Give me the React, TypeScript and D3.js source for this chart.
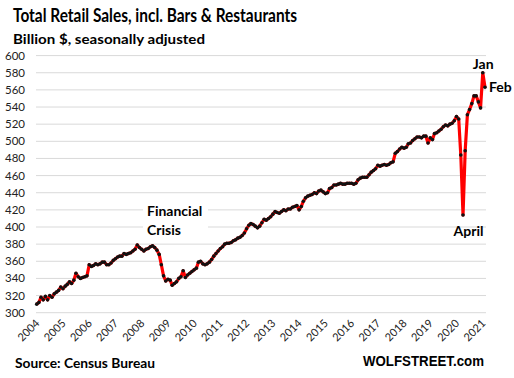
import React, { useEffect, useRef } from "react";
import * as d3 from "d3";

// Monthly total retail sales (billion $, SA), Jan of each year onward
const sales2004 = [310, 312, 318, 315, 319, 315, 320, 318, 322, 324, 326, 330];
const sales2005 = [328, 331, 333, 336, 334, 338, 346, 342, 340, 341, 342, 343];
const sales2006 = [356, 354, 355, 357, 356, 357, 359, 359, 356, 356, 358, 361];
const sales2007 = [363, 365, 366, 366, 369, 368, 369, 370, 372, 374, 379, 376];
const sales2008 = [374, 372, 374, 375, 377, 378, 376, 373, 368, 356, 343, 337];
const sales2009 = [339, 338, 332, 334, 336, 340, 342, 349, 341, 344, 346, 348];
const sales2010 = [350, 352, 359, 360, 357, 356, 357, 359, 362, 366, 369, 372];
const sales2011 = [375, 377, 380, 381, 381, 382, 384, 385, 387, 388, 390, 393];
const sales2012 = [398, 402, 404, 403, 401, 399, 401, 405, 409, 408, 410, 412];
const sales2013 = [415, 418, 417, 416, 418, 420, 419, 421, 421, 423, 424, 425];
const sales2014 = [420, 424, 430, 434, 436, 437, 438, 440, 439, 442, 443, 441];
const sales2015 = [439, 440, 445, 446, 449, 449, 450, 451, 450, 450, 451, 451];
const sales2016 = [451, 450, 451, 455, 457, 458, 458, 458, 461, 464, 466, 468];
const sales2017 = [472, 471, 472, 473, 472, 473, 475, 476, 486, 488, 491, 493];
const sales2018 = [492, 493, 497, 498, 501, 503, 505, 505, 504, 506, 506, 498];
const sales2019 = [504, 502, 509, 510, 512, 514, 517, 519, 518, 520, 521, 524];
const sales2020 = [529, 526, 484, 414, 489, 531, 537, 544, 553, 553, 546, 539];
const sales2021 = [580, 563];

const yearLabels = ["2004", "2005", "2006", "2007", "2008", "2009", "2010", "2011", "2012", "2013", "2014", "2015", "2016", "2017", "2018", "2019", "2020", "2021"];
const yTicks = [300, 320, 340, 360, 380, 400, 420, 440, 460, 480, 500, 520, 540, 560, 580, 600];

const allYears = [sales2004, sales2005, sales2006, sales2007, sales2008, sales2009, sales2010, sales2011, sales2012, sales2013, sales2014, sales2015, sales2016, sales2017, sales2018, sales2019, sales2020, sales2021];

const data: { date: Date; v: number }[] = [];
allYears.forEach((arr, yi) => {
  arr.forEach((v, m) => data.push({ date: new Date(2004 + yi, m, 1), v }));
});

const FONT = "Lato, 'Open Sans', sans-serif";

export default function App() {
  const W = 514, H = 378;
  const ref = useRef<SVGGElement>(null);
  const x = d3.scaleTime().domain([new Date(2004, 0, 1), new Date(2021, 1, 1)]).range([36.7, 485]);
  const y = d3.scaleLinear().domain([300, 600]).range([312.7, 55.6]);
  const line = d3.line<{ date: Date; v: number }>().x(d => x(d.date)).y(d => y(d.v));
  const last = data[data.length - 1];
  const jan = data[data.length - 2];
  const apr = data.find(d => d.date.getFullYear() === 2020 && d.date.getMonth() === 3)!;

  useEffect(() => {
    if (!ref.current) return;
    const g = d3.select(ref.current);
    g.selectAll("*").remove();
    const axis = d3.axisBottom(x)
      .tickValues(yearLabels.map(l => new Date(+l, 0, 1)))
      .tickFormat(d3.timeFormat("%Y") as any)
      .tickSize(0)
      .tickPadding(0);
    g.attr("transform", "translate(0,0)").call(axis);
    g.select(".domain").remove();
    g.selectAll("text")
      .attr("font-family", FONT)
      .attr("font-size", 11)
      .attr("fill", "#222")
      .attr("dy", null)
      .attr("y", 0)
      .attr("x", 0)
      .attr("text-anchor", "end")
      .attr("transform", "translate(3,324) rotate(-45)");
  }, []);

  return (
    <svg width={W} height={H} style={{ position: "absolute", left: 0, top: 0, background: "#fff" }}>
      <rect width={W} height={H} fill="#fff" />
      <text x={13} y={22} fontFamily={FONT} fontWeight={700} fontSize={18} textLength={284} lengthAdjust="spacingAndGlyphs">Total Retail Sales, incl. Bars &amp; Restaurants</text>
      <text x={13} y={44} fontFamily={FONT} fontWeight={700} fontSize={14} textLength={192} lengthAdjust="spacingAndGlyphs">Billion $, seasonally adjusted</text>

      {yTicks.map(t => (
        <g key={t}>
          <line x1={36} x2={486} y1={y(t)} y2={y(t)} stroke="#d9d9d9" strokeWidth={1} />
          <text x={25} y={y(t) + 4} textAnchor="end" fontFamily={FONT} fontSize={11.5} fill="#222">{t}</text>
        </g>
      ))}

      <g ref={ref} />

      <rect x={143} y={203} width={65} height={35} fill="#fff" />
      <text x={147} y={216} fontFamily={FONT} fontWeight={700} fontSize={14}>Financial</text>
      <text x={147} y={234.5} fontFamily={FONT} fontWeight={700} fontSize={14}>Crisis</text>

      <path d={line(data) || ""} fill="none" stroke="#ff0000" strokeWidth={3.2} strokeLinejoin="round" />
      {data.map((d, i) => (
        <circle key={i} cx={x(d.date)} cy={y(d.v)} r={1.8} fill="#111" />
      ))}

      <text x={x(apr.date) - 9.5} y={y(apr.v) + 20.5} fontFamily={FONT} fontWeight={700} fontSize={14}>April</text>
      <text x={x(jan.date) - 10} y={y(jan.v) - 4} fontFamily={FONT} fontWeight={700} fontSize={14}>Jan</text>
      <text x={x(last.date) + 4} y={y(last.v) + 5} fontFamily={FONT} fontWeight={700} fontSize={14}>Feb</text>

      <text x={15} y={368} fontFamily={FONT} fontWeight={700} fontSize={13} textLength={140} lengthAdjust="spacingAndGlyphs">Source: Census Bureau</text>
      <text x={363} y={366} fontFamily="'Liberation Sans', Arial, sans-serif" fontWeight={700} fontSize={14} textLength={121} lengthAdjust="spacingAndGlyphs">WOLFSTREET.com</text>
    </svg>
  );
}
